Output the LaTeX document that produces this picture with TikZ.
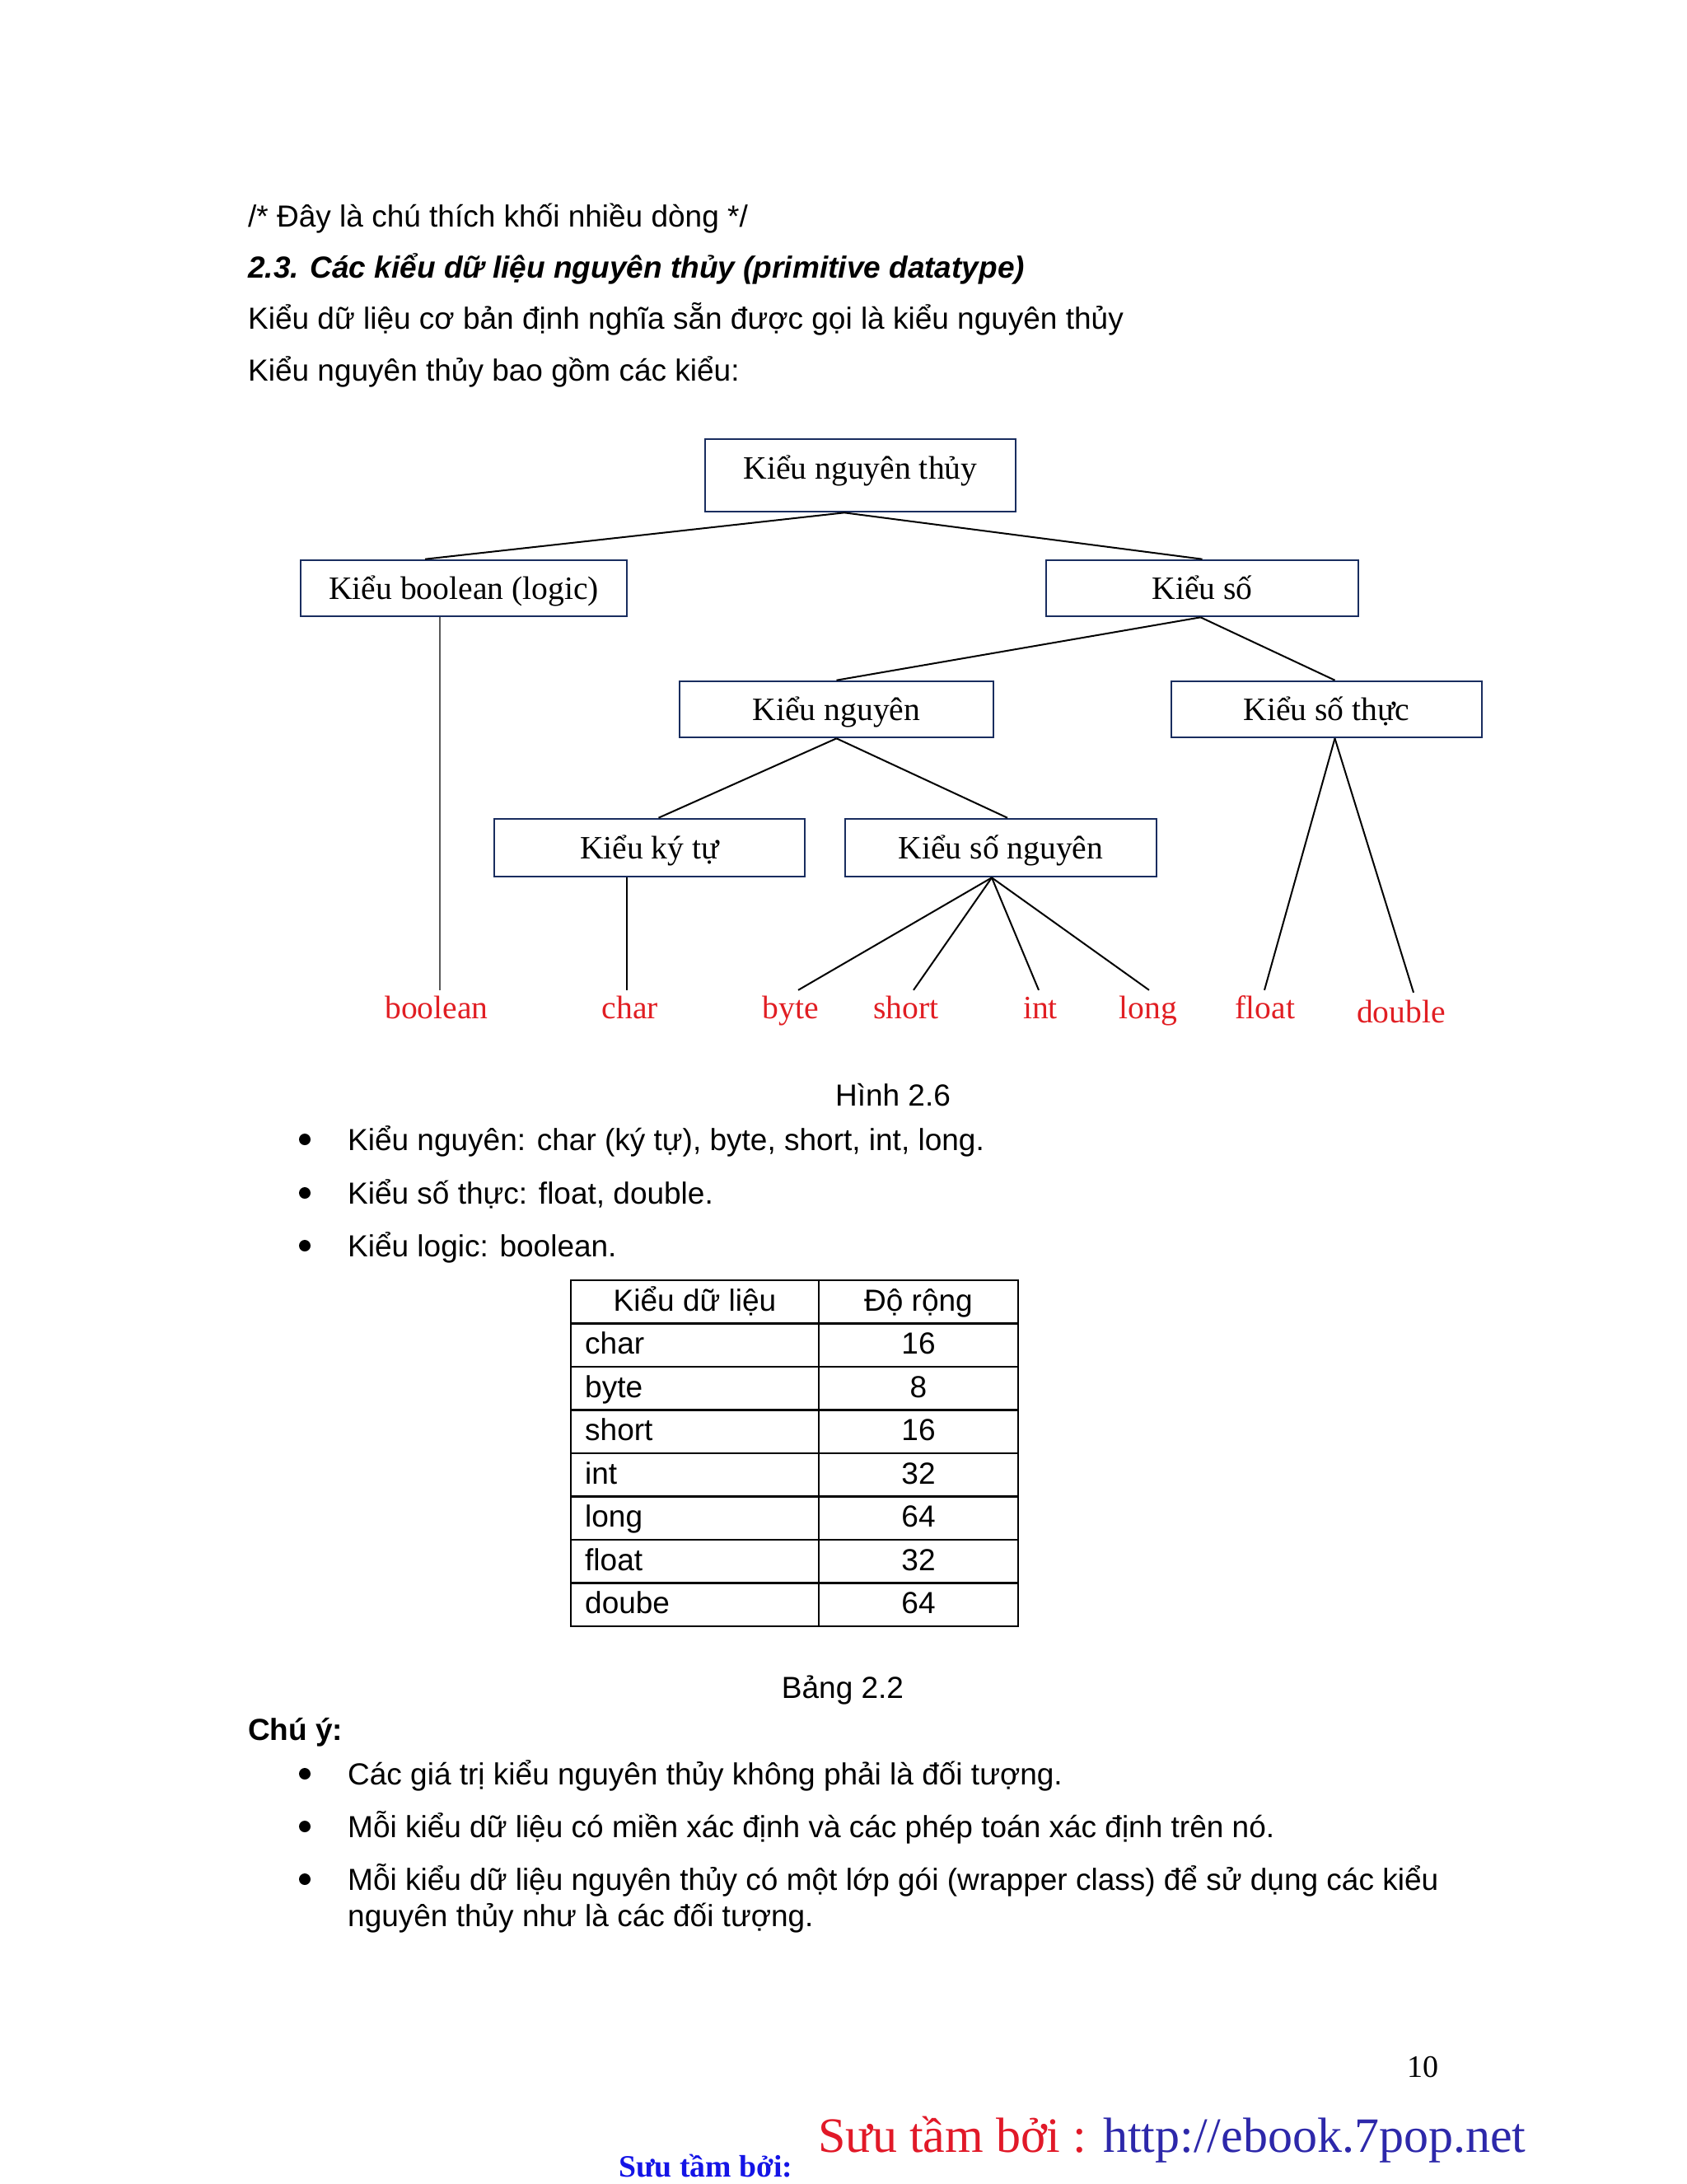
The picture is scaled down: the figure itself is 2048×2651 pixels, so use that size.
\documentclass[tikz,border=0pt]{standalone}
\usepackage{fontspec}
\setmainfont{Liberation Sans}
\newfontfamily\tmsfont{Liberation Serif}
\usetikzlibrary{calc}
\definecolor{boxblue}{RGB}{25,45,95}
\definecolor{leafred}{RGB}{225,30,35}
\definecolor{linkblue}{RGB}{45,40,170}
\definecolor{bluebold}{RGB}{20,20,230}
\definecolor{footred}{RGB}{225,25,40}
\newcommand\mybody{\fontsize{37}{44}\selectfont}
\newcommand\mydiag{\tmsfont\fontsize{39.6}{46}\selectfont}
\tikzset{
  bodytxt/.style={font=\mybody, inner sep=0, anchor=base west},
  bodyctr/.style={font=\mybody, inner sep=0, anchor=base},
  bul/.style={circle, fill=black, inner sep=0, minimum size=14},
  tbox/.style={draw=boxblue, line width=2.6, font=\mydiag, inner sep=0,
               minimum width=377, minimum height=68, text height=30, text depth=4},
  leaf/.style={font=\mydiag, text=leafred, inner sep=0, anchor=base, text height=27, text depth=9},
  conn/.style={draw=black, line width=2},
  grid/.style={draw=black, line width=2.6},
}
\begin{document}
\begin{tikzpicture}[x=1pt,y=-1pt]
\useasboundingbox[fill=white] (0,0) rectangle (2048,2651);

% ---- top text ----
\node[bodytxt] (t1) at (301,275) {/* Đây là chú thích khối nhiều dòng */};
\node[bodytxt, font=\mybody\bfseries\itshape] (t2) at (301,337) {2.3. Các kiểu dữ liệu nguyên thủy (primitive datatype)};
\node[bodytxt] (t3) at (301,399) {Kiểu dữ liệu cơ bản định nghĩa sẵn được gọi là kiểu nguyên thủy};
\node[bodytxt] (t4) at (301,462) {Kiểu nguyên thủy bao gồm các kiểu:};

% ---- tree boxes ----
\node[tbox, minimum height=88, text depth=21] (root) at (1044.5,577) {Kiểu nguyên thủy};
\node[tbox, minimum width=396] (kbool) at (563,714) {Kiểu boolean (logic)};
\node[tbox, minimum width=379] (kso) at (1459.5,714) {Kiểu số};
\node[tbox, minimum width=381] (knguyen) at (1015.5,861) {Kiểu nguyên};
\node[tbox] (ksothuc) at (1610.5,861) {Kiểu số thực};
\node[tbox, minimum height=70] (kkytu) at (788.5,1029) {Kiểu ký tự};
\node[tbox, minimum width=378, minimum height=70] (ksonguyen) at (1215,1029) {Kiểu số nguyên};

% ---- leaves ----
\node[leaf] (lboolean) at (530,1236) {boolean};
\node[leaf] (lchar) at (765,1236) {char};
\node[leaf] (lbyte) at (960,1236) {byte};
\node[leaf] (lshort) at (1100,1236) {short};
\node[leaf] (lint) at (1263,1236) {int};
\node[leaf] (llong) at (1394,1236) {long};
\node[leaf] (lfloat) at (1536,1236) {float};
\node[leaf] (ldouble) at (1701,1241) {double};

% ---- connectors ----
\draw[conn] ($(root.south)+(-19.5,0)$) -- ($(kbool.north)+(-47,0)$);
\draw[conn] ($(root.south)+(-19.5,0)$) -- (kso.north);
\draw[conn, draw=black!65] ($(kbool.south)+(-29,0)$) -- ($(lboolean.north)+(4,-7)$);
\draw[conn] ($(kso.south)+(-2,0)$) -- (knguyen.north);
\draw[conn] ($(kso.south)+(-2,0)$) -- ($(ksothuc.north)+(10,0)$);
\draw[conn] (knguyen.south) -- ($(kkytu.north)+(11,0)$);
\draw[conn] (knguyen.south) -- ($(ksonguyen.north)+(8,0)$);
\draw[conn] ($(kkytu.south)+(-27.5,0)$) -- ($(lchar.north)+(-4,-7)$);
\draw[conn] ($(ksonguyen.south)+(-11,0)$) -- ($(lbyte.north)+(9,-7)$);
\draw[conn] ($(ksonguyen.south)+(-11,0)$) -- ($(lshort.north)+(9,-7)$);
\draw[conn] ($(ksonguyen.south)+(-11,0)$) -- ($(lint.north)+(-2,-7)$);
\draw[conn] ($(ksonguyen.south)+(-11,0)$) -- ($(llong.north)+(1,-7)$);
\draw[conn] ($(ksothuc.south)+(10,0)$) -- ($(lfloat.north)+(-1,-7)$);
\draw[conn] ($(ksothuc.south)+(10,0)$) -- ($(ldouble.north)+(15,-9)$);

% ---- caption and bullets ----
\node[bodyctr] (cap1) at (1084,1342) {Hình 2.6};
\node[bul] (b1) at (370,1383) {};
\node[bodytxt] (bt1) at (422,1396) {Kiểu nguyên: char (ký tự), byte, short, int, long.};
\node[bul] (b2) at (370,1448) {};
\node[bodytxt] (bt2) at (422,1461) {Kiểu số thực: float, double.};
\node[bul] (b3) at (370,1512) {};
\node[bodytxt] (bt3) at (422,1525) {Kiểu logic: boolean.};

% ---- table ----
\draw[grid] (693,1554) rectangle (1236,1974);
\draw[grid] (994,1554) -- (994,1974);
\foreach \k in {1,...,7} {\draw[grid] (693,1554+52.5*\k) -- (1236,1554+52.5*\k);}
\node[bodyctr] (h1) at (843.5,1591) {Kiểu dữ liệu};
\node[bodyctr] (h2) at (1115,1591) {Độ rộng};
\foreach \nm/\val [count=\i] in {char/16, byte/8, short/16, int/32, long/64, float/32, doube/64} {
  \node[bodytxt] (r\i a) at (710,1591+52.5*\i) {\nm};
  \node[bodyctr] (r\i b) at (1115,1591+52.5*\i) {\val};
}
\node[bodyctr] (cap2) at (1023,2061) {Bảng 2.2};

% ---- notes ----
\node[bodytxt, font=\mybody\bfseries] (chuy) at (301,2112) {Chú ý:};
\node[bul] (b4) at (370,2153) {};
\node[bodytxt] (bt4) at (422,2166) {Các giá trị kiểu nguyên thủy không phải là đối tượng.};
\node[bul] (b5) at (370,2217) {};
\node[bodytxt] (bt5) at (422,2230) {Mỗi kiểu dữ liệu có miền xác định và các phép toán xác định trên nó.};
\node[bul] (b6) at (370,2281) {};
\node[bodytxt] (bt6) at (422,2294) {Mỗi kiểu dữ liệu nguyên thủy có một lớp gói (wrapper class) để sử dụng các kiểu};
\node[bodytxt] (bt6b) at (422,2338) {nguyên thủy như là các đối tượng.};

% ---- footer ----
\node[font=\tmsfont\fontsize{38}{44}\selectfont, inner sep=0, anchor=base] (pnum) at (1727,2521) {10};
\node[font=\tmsfont\fontsize{60}{70}\selectfont, inner sep=0, anchor=base west] (foot) at (993,2612)
  {\textcolor{footred}{Sưu tầm bởi :} \textcolor{linkblue}{http://ebook.7pop.net}};
\node[font=\tmsfont\bfseries\fontsize{37.7}{44}\selectfont, text=bluebold, inner sep=0, anchor=base west] (foot2) at (751,2642) {Sưu tầm bởi:};
\end{tikzpicture}
\end{document}
